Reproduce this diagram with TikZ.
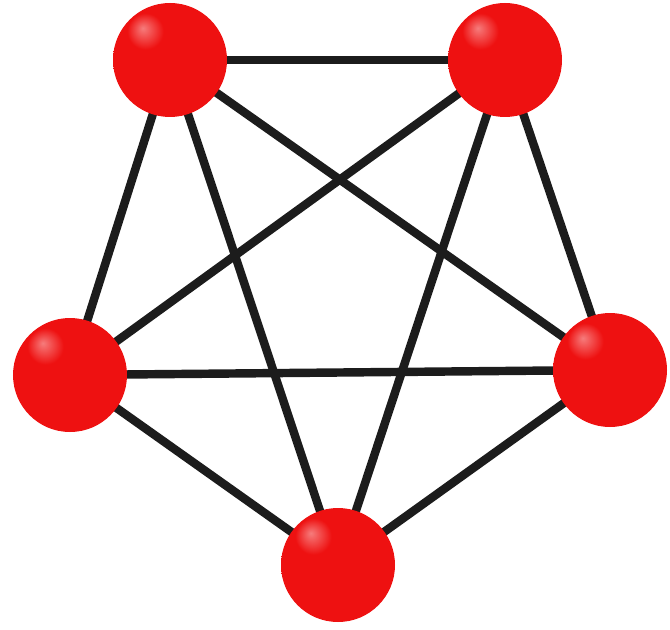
\documentclass[tikz,border=0pt]{standalone}
\usepackage{tikz}
\usetikzlibrary{backgrounds}
\definecolor{ink}{HTML}{1C1C1C}
\definecolor{ballred}{HTML}{EE1111}
\definecolor{balldark}{HTML}{B00808}
\pgfdeclareradialshading{redball}{\pgfpoint{-12bp}{14bp}}{color(0bp)=(ballred!55!white);color(8bp)=(ballred);color(40bp)=(ballred);color(58bp)=(balldark);color(80bp)=(balldark)}

\begin{document}
\begin{tikzpicture}[vertex/.style={circle,minimum size=2.28cm,inner sep=0pt,shading=redball},edge/.style={line width=4.8pt,ink}]
\useasboundingbox (0,0) rectangle (13.4,12.58);
\node[vertex] (tl) at (3.4,11.38) {};
\node[vertex] (tr) at (10.1,11.38) {};
\node[vertex] (l) at (1.4,5.08) {};
\node[vertex] (r) at (12.2,5.18) {};
\node[vertex] (b) at (6.76,1.28) {};
\begin{scope}[on background layer]
\draw[edge] (tl) -- (tr);
\draw[edge] (tl.center) -- (l.center);
\draw[edge] (tl.center) -- (r.center);
\draw[edge] (tl.center) -- (b.center);
\draw[edge] (tr.center) -- (l.center);
\draw[edge] (tr.center) -- (r.center);
\draw[edge] (tr.center) -- (b.center);
\draw[edge] (l.center) -- (r.center);
\draw[edge] (l.center) -- (b.center);
\draw[edge] (r.center) -- (b.center);
\end{scope}
\end{tikzpicture}
\end{document}
